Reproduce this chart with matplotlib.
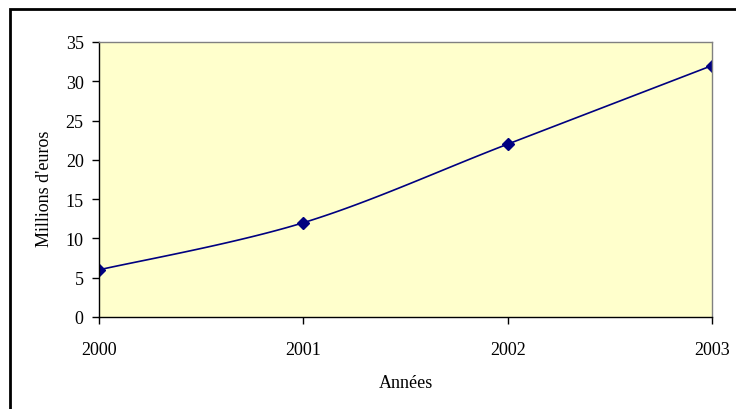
import numpy as np
import matplotlib.pyplot as plt
from matplotlib.patches import Rectangle

# Données
annees = [2000, 2001, 2002, 2003]
valeurs = [6, 12, 22, 32]
yticks = [0, 5, 10, 15, 20, 25, 30, 35]

plt.rcParams['font.family'] = ['Liberation Serif', 'DejaVu Serif']


# Lissage type Excel (Bezier, tension 1/6)
def lisser(x, y, n=40):
    x = np.asarray(x, float)
    y = np.asarray(y, float)
    px = np.concatenate([[x[0]], x, [x[-1]]])
    py = np.concatenate([[y[0]], y, [y[-1]]])
    xs, ys = [], []
    t = np.linspace(0, 1, n)
    for i in range(len(x) - 1):
        p0 = np.array([px[i + 1], py[i + 1]])
        p3 = np.array([px[i + 2], py[i + 2]])
        p1 = p0 + (np.array([px[i + 2], py[i + 2]]) - np.array([px[i], py[i]])) / 6
        p2 = p3 - (np.array([px[i + 3], py[i + 3]]) - np.array([px[i + 1], py[i + 1]])) / 6
        b = ((1 - t) ** 3)[:, None] * p0 + (3 * (1 - t) ** 2 * t)[:, None] * p1 \
            + (3 * (1 - t) * t ** 2)[:, None] * p2 + (t ** 3)[:, None] * p3
        xs.extend(b[:, 0])
        ys.extend(b[:, 1])
    return xs, ys


fig = plt.figure(figsize=(7.36, 4.10), dpi=100)
ax = fig.add_axes([99 / 736, 1 - 318 / 410, (712 - 99) / 736, (318 - 43) / 410])
ax.set_facecolor('#FFFFCC')

sx, sy = lisser(annees, valeurs)
ax.plot(sx, sy, color='#000080', lw=1.2)
ax.plot(annees, valeurs, ls='none', marker='D', ms=6, color='#000080')

ax.set_xlim(2000, 2003)
ax.set_ylim(0, 35)
ax.set_xticks(annees)
ax.set_yticks(yticks)
ax.tick_params(labelsize=13, length=5, width=1, direction='out', colors='black')
ax.tick_params(axis='y', pad=6)
ax.tick_params(axis='x', pad=12)
ax.spines['top'].set_color('#808080')
ax.spines['right'].set_color('#808080')
ax.spines['left'].set_color('black')
ax.spines['bottom'].set_color('black')
for s in ax.spines.values():
    s.set_linewidth(1)

ax.set_ylabel("Millions d'euros", fontsize=13)
ax.yaxis.set_label_coords(-0.075, 0.47)
ax.set_xlabel('Années', fontsize=13, labelpad=12)

# cadre du graphique
fig.patches.append(Rectangle((10 / 736, -0.1), 1.2, 0.1 + 1 - 10 / 410,
                             transform=fig.transFigure, fill=False,
                             edgecolor='black', lw=2, clip_on=True))

fig.savefig('out.png', dpi=100)
